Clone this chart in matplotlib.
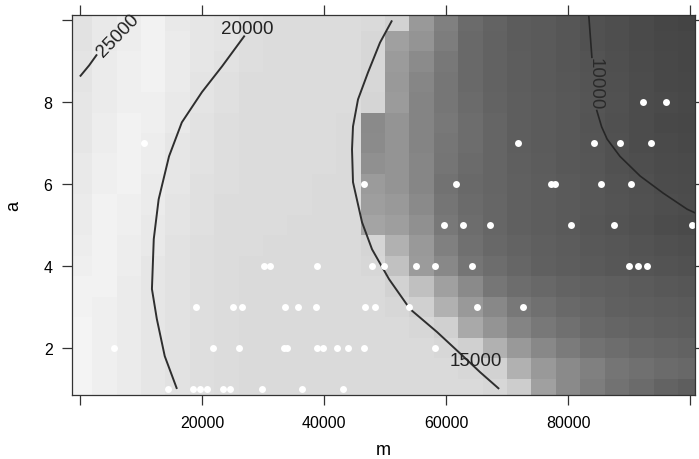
import numpy as np
import matplotlib
matplotlib.use("Agg")
import matplotlib.pyplot as plt
from matplotlib.colors import LinearSegmentedColormap

plt.rcParams["font.family"] = ["Liberation Sans", "DejaVu Sans"]

# levelplot grid (cell centres)
grid_m = [0, 4000, 8000, 12000, 16000, 20000, 24000, 28000, 32000, 36000, 40000,
          44000, 48000, 52000, 56000, 60000, 64000, 68000, 72000, 76000, 80000,
          84000, 88000, 92000, 96000, 100000]
grid_a = [1.0, 1.5, 2.0, 2.5, 3.0, 3.5, 4.0, 4.5, 5.0, 5.5, 6.0, 6.5, 7.0, 7.5,
          8.0, 8.5, 9.0, 9.5, 10.0]

# fitted surface (thousands), one row per grid_a value, bottom row first
fit_z = [
    [25, 24, 23, 22, 21, 20, 19.5, 19, 19, 19, 19, 19, 19, 19, 19, 19, 19, 18.5, 17, 15.5, 14.5, 13.8, 13.2, 12.7, 12.2, 11.8],
    [25, 24, 23, 22, 21, 20, 19.5, 19, 19, 19, 19, 19, 19, 19, 19, 19, 18.5, 17.5, 16, 15.2, 14.5, 14, 13.3, 13, 12.7, 12.5],
    [25, 24, 23, 22, 21, 20, 19.5, 19, 19, 19, 19, 19, 19, 19, 19, 18.5, 17.2, 16, 15.2, 14.4, 13.7, 13.2, 12.8, 12.5, 12.3, 12.1],
    [25, 24, 23, 22, 21, 20, 19.5, 19, 19, 19, 19, 19, 19, 19, 18.5, 17.2, 15.8, 15, 14.2, 13.5, 13, 12.6, 12.3, 12.1, 11.9, 11.7],
    [24.5, 24, 23, 22, 21, 20, 19.5, 19, 19, 19, 19, 19, 19, 18.5, 17.2, 16, 15.2, 14.4, 13.5, 13, 12.6, 12.3, 12, 11.8, 11.6, 11.4],
    [24.5, 24.5, 23, 22, 21, 20, 19.5, 19, 19, 19, 19, 19, 19, 17.5, 16.4, 15.5, 14.5, 13.4, 12.8, 12.5, 12.2, 12, 11.8, 11.5, 11.3, 11],
    [24, 24.5, 23.5, 22, 21, 20, 19.5, 19, 19, 19, 19, 19, 18.5, 16.5, 15.3, 14.4, 13.3, 12.8, 12.4, 12, 11.7, 11.4, 11.1, 10.9, 10.7, 10.5],
    [23.5, 24.5, 23.5, 22.5, 21, 20, 19.5, 19.5, 19, 19, 19, 19, 18, 16, 15.2, 14, 13, 12.5, 12.2, 11.9, 11.6, 11.3, 11, 10.7, 10.4, 10.2],
    [23, 24.5, 24, 22.5, 21.5, 20.5, 19.5, 19.5, 19.5, 19, 19, 19, 15.6, 15.4, 14.8, 13.5, 12.8, 12.4, 12, 11.7, 11.4, 11, 10.7, 10.4, 10, 9.8],
    [23, 24.5, 24, 23, 21.5, 20.5, 19.5, 19.5, 19.5, 19.5, 19, 19, 15.4, 15.2, 14.5, 13.3, 12.7, 12.4, 12, 11.7, 11.4, 11.1, 10.8, 10.5, 10.2, 10],
    [22.5, 24, 24.5, 23, 22, 20.5, 20, 19.5, 19.5, 19.5, 19, 19, 15.3, 15, 14.3, 13.2, 12.6, 12.3, 12, 11.7, 11.4, 11.1, 10.7, 10.4, 10.1, 9.9],
    [22.5, 24, 24.5, 23.5, 22, 21, 20, 19.5, 19.5, 19.5, 19.5, 19, 14.8, 15, 14.3, 13.3, 12.7, 12.3, 11.9, 11.6, 11.3, 11, 10.6, 10.2, 9.9, 9.7],
    [22, 23.5, 24.5, 23.5, 22, 21, 20, 19.5, 19.5, 19.5, 19.5, 19, 14.6, 15, 14.2, 13.4, 12.8, 12.3, 11.8, 11.5, 11.2, 10.9, 10.5, 10.1, 9.7, 9.5],
    [22, 23.5, 24.5, 24, 22.5, 21, 20, 19.5, 19.5, 19.5, 19.5, 19, 14.5, 15, 14.2, 13.5, 12.8, 12.3, 11.8, 11.5, 11.2, 10.8, 10.4, 10, 9.6, 9.4],
    [22, 23, 24, 24, 22.5, 21.5, 20.5, 19.5, 19.5, 19.5, 19.5, 19.5, 18, 15.3, 14.2, 13.4, 12.7, 12.2, 11.8, 11.5, 11.2, 10.9, 10.5, 10.1, 9.7, 9.5],
    [21.5, 23, 24, 24.5, 23, 21.5, 20.5, 19.5, 19.5, 19.5, 19.5, 19.5, 18.5, 15.2, 14.3, 13.4, 12.6, 12.1, 11.7, 11.4, 11.1, 10.8, 10.4, 10, 9.6, 9.4],
    [21.5, 23, 24, 24.5, 23, 22, 21, 20, 19.5, 19.5, 19.5, 19.5, 18.5, 15.3, 14.6, 13.5, 12.6, 12.1, 11.7, 11.4, 11, 10.7, 10.3, 9.9, 9.5, 9.3],
    [21, 22.5, 23.5, 24.5, 23, 22, 21.5, 20, 19.5, 19.5, 19.5, 19.5, 18.5, 15.5, 15, 13.8, 12.6, 12.1, 11.6, 11.4, 11, 10.6, 10.2, 9.8, 9.4, 9.2],
    [21, 22.5, 23.5, 24.5, 22.5, 22, 21.5, 20, 19.5, 19.5, 19.5, 19.5, 19, 17.5, 15.2, 14, 12.7, 12.2, 11.6, 11.4, 11, 10.6, 10.2, 9.8, 9.3, 9],
]

# observed design points
obs_m = [14400, 18500, 19700, 20800, 23400, 24600, 29800, 36400, 43100,
         5600, 21800, 26100, 33400, 33900, 38900, 39800, 42100, 43900, 46600, 58200,
         19000, 25100, 26600, 33600, 35700, 38700, 46700, 48400, 53900, 65100, 72600,
         30200, 31100, 38900, 47900, 49800, 55100, 58200, 64300, 90000, 91500, 93000,
         59700, 62800, 67200, 80500, 87500, 100300,
         46600, 61600, 77200, 77900, 85400, 90300,
         10500, 71800, 84300, 88500, 93600,
         92300, 96100]
obs_a = [1] * 9 + [2] * 11 + [3] * 11 + [4] * 11 + [5] * 6 + [6] * 6 + [7] * 5 + [8] * 2

# contour lines of the smooth fit (nan = gap under the label)
c25000_m = [0, 1500, 2800]
c25000_a = [8.63, 8.90, 9.17]
c20000_m = [15900, 13900, 12600, 11800, 12100, 12900, 14600, 16700, 20000, 23300, 27000]
c20000_a = [1.0, 1.8, 2.71, 3.44, 4.66, 5.63, 6.68, 7.51, 8.25, 8.88, 9.63]
c15000_m = [68700, 65570, 62790, 58520, 54100, 50660, 47870, 46230, 44750, 44590,
            44750, 45570, 47210, 49180, 51150]
c15000_a = [1.0, 1.41, 1.80, 2.39, 2.95, 3.68, 4.41, 5.07, 6.05, 6.85,
            7.41, 8.07, 8.73, 9.46, 10.0]
c10000_m = [83400, 83900, np.nan, 84700, 85500, 86400, 88500, 91800, 95600, 99500, 100800]
c10000_a = [10.1, 9.1, np.nan, 7.8, 7.4, 7.1, 6.68, 6.2, 5.78, 5.39, 5.3]

# grey scale used by the levelplot
shade_z = [8, 9, 10, 11, 12, 13, 14, 14.8, 15.5, 16.4, 17.2, 19, 22, 25, 26]
shade_g = [0x3c, 0x44, 0x4c, 0x56, 0x60, 0x70, 0x80, 0x90, 0xa0, 0xc0, 0xd0, 0xda, 0xe6, 0xf4, 0xf8]


def main():
    zmin, zmax = shade_z[0], shade_z[-1]
    nodes = [((z - zmin) / (zmax - zmin), (g / 255, g / 255, g / 255))
             for z, g in zip(shade_z, shade_g)]
    cmap = LinearSegmentedColormap.from_list("greys_lv", nodes)

    fig = plt.figure(figsize=(6.99, 4.60), dpi=100)
    ax = fig.add_axes([0.103, 0.139, 0.8913, 0.826])

    ax.pcolormesh(grid_m, grid_a, np.array(fit_z), cmap=cmap, vmin=zmin, vmax=zmax,
                  shading="nearest", rasterized=True)

    line_kw = dict(color="#2e2e2e", lw=1.4, solid_capstyle="butt")
    ax.plot(c25000_m, c25000_a, **line_kw)
    ax.plot(c20000_m, c20000_a, **line_kw)
    ax.plot(c15000_m, c15000_a, **line_kw)
    ax.plot(c10000_m, c10000_a, color="#262626", lw=1.2)

    lab_kw = dict(fontsize=13.5, color="#222222", ha="center", va="center")
    ax.text(6200, 9.64, "25000", rotation=46, **lab_kw)
    ax.text(27400, 9.80, "20000", **lab_kw)
    ax.text(64900, 1.70, "15000", **lab_kw)
    ax.text(84400, 8.47, "10000", rotation=-90, color="#2a2a2a", fontsize=13.5,
            ha="center", va="center")

    ax.plot(obs_m, obs_a, "o", color="white", markersize=5, markeredgewidth=0)

    ax.set_xlim(-1300, 100800)
    ax.set_ylim(0.85, 10.13)
    ax.set_xticks([0, 20000, 40000, 60000, 80000, 100000])
    ax.set_xticklabels(["", "20000", "40000", "60000", "80000", ""])
    ax.set_yticks([2, 4, 6, 8, 10])
    ax.set_yticklabels(["2", "4", "6", "8", ""])
    ax.tick_params(direction="out", length=7, width=0.9, color="#333333",
                   top=True, right=True, labelsize=11.5, pad=7)
    for sp in ax.spines.values():
        sp.set_color("#333333")
        sp.set_linewidth(0.9)

    ax.set_xlabel("m", fontsize=13, labelpad=8)
    ax.set_ylabel("a", fontsize=13, labelpad=15)

    fig.savefig("out.png", dpi=100)


if __name__ == "__main__":
    main()
